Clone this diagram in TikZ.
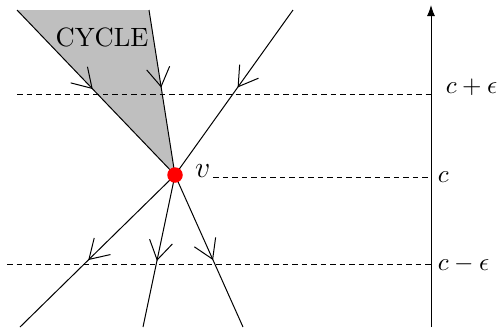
\documentclass[tikz,border=0pt]{standalone}
\usepackage{amsmath,amssymb}
\usetikzlibrary{arrows.meta,decorations.markings}

\begin{document}
\begin{tikzpicture}[x=0.4pt, y=-0.4pt, >=Latex]
\tikzset{
  flow/.style={postaction={decorate}, decoration={markings, mark=at position #1 with {\arrow{Straight Barb[length=7.5pt,width=9.3pt]}}}},
  level/.style={dash pattern=on 2.2pt off 1.6pt},
  vertex/.style={circle, fill=red, inner sep=0pt, minimum size=6.2pt},
  axis/.style={-{Latex[length=4.4pt,width=3.2pt]}},
}
\useasboundingbox (0,0) rectangle (499,329);

% Points
\coordinate (v) at (175,175);
\coordinate (tl) at (17,10);
\coordinate (tm) at (149,10);
\coordinate (tr) at (293,10);
\coordinate (bl) at (20,327);
\coordinate (bm) at (143,327);
\coordinate (br) at (243,327);

% Axis levels
\coordinate (ax0) at (431,327);
\coordinate (ax1) at (431,5);
\coordinate (up) at (431,94);
\coordinate (mid) at (431,177);
\coordinate (lo) at (431,264);
\coordinate (upstart) at (17,94);
\coordinate (lostart) at (7,264);

% Cycle region
\fill[gray!50] (tl) -- (tm) -- (v) -- cycle;
\node (cycle) [font=\fontsize{10.6}{12}\selectfont] at (102,37) {CYCLE};

% Level lines
\draw[level] (upstart) -- (up);
\draw[level] (lostart) -- (lo);

% Incoming lines
\draw[flow=0.48] (tl) -- (v);
\draw[flow=0.47] (tm) -- (v);
\draw[flow=0.47] (tr) -- (v);

% Outgoing lines
\draw[flow=0.56] (v) -- (bl);
\draw[flow=0.565] (v) -- (bm);
\draw[flow=0.56] (v) -- (br);

% Vertex
\node (vdot) [vertex] at (v) {};
\node (vlab) [anchor=base west, inner sep=1pt, font=\fontsize{11.5}{13}\selectfont] at (192,177) {$v$};
\draw[level] (vlab.base east) -- (mid);

% Axis
\draw[axis] (ax0) -- (ax1);
\node (cup) [anchor=west] at (437,87) {$c+\epsilon$};
\node (cmid) [anchor=west, inner sep=2.5pt] at (mid) {$c$};
\node (clo) [anchor=west, inner sep=2.5pt] at (lo) {$c-\epsilon$};

\end{tikzpicture}
\end{document}
